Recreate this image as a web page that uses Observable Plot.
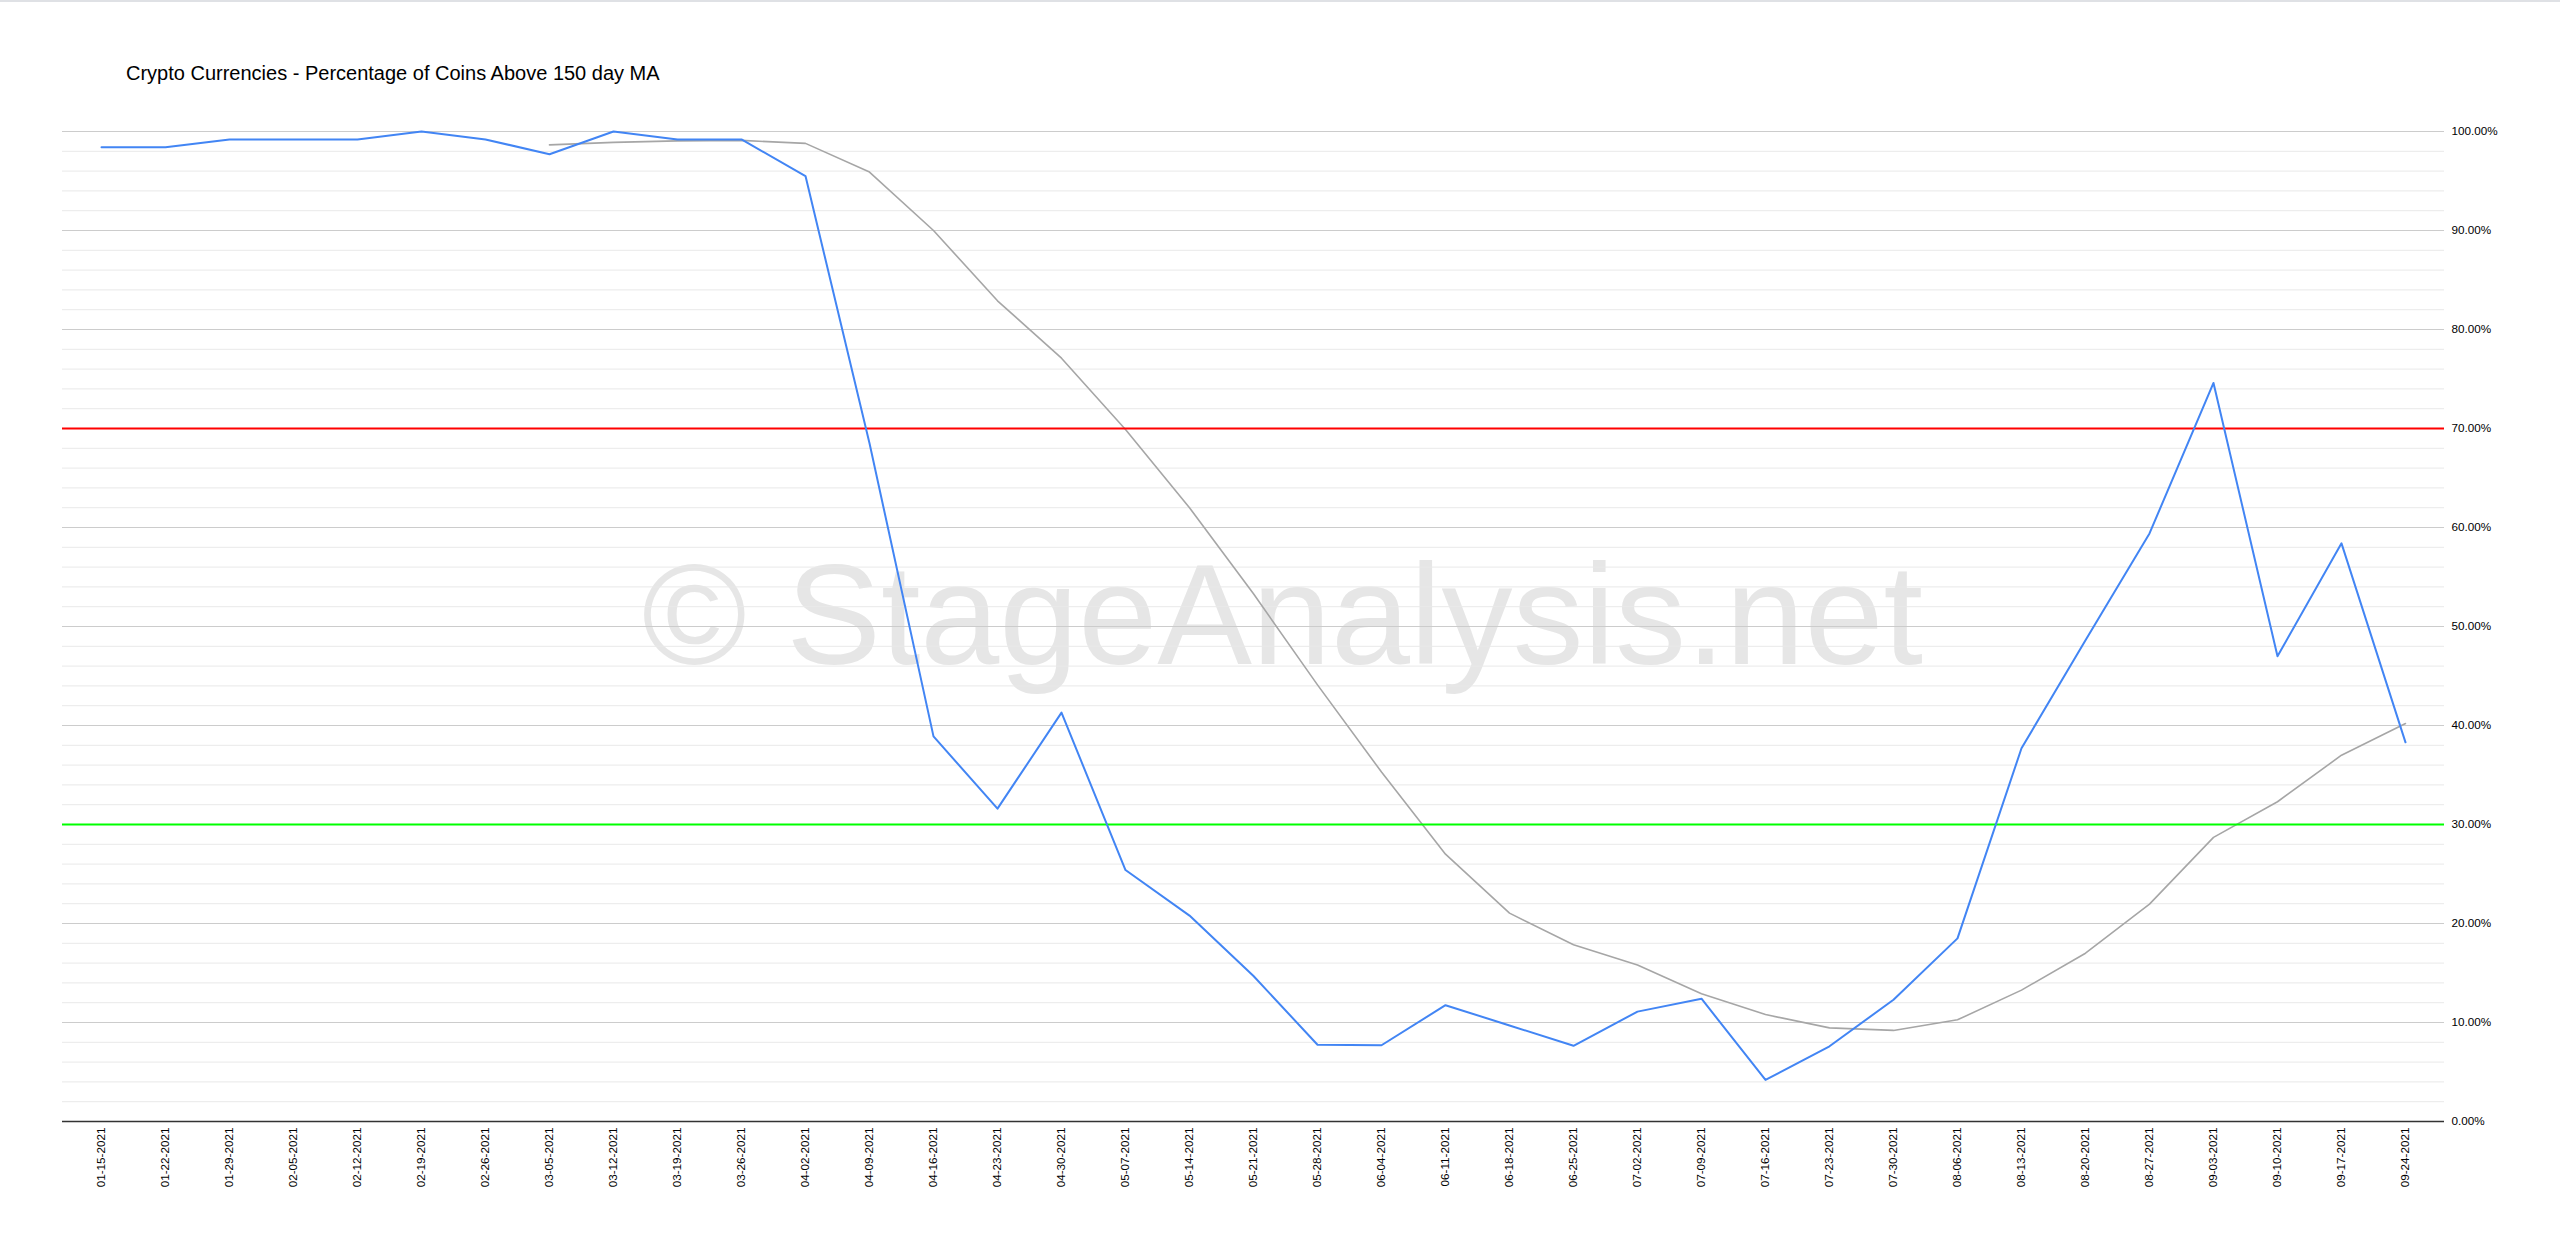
<!DOCTYPE html>
<html>
<head>
<meta charset="utf-8">
<script src="https://cdn.jsdelivr.net/npm/d3@7"></script>
<script src="https://cdn.jsdelivr.net/npm/@observablehq/plot@0.6"></script>
<style>
  html, body { margin: 0; padding: 0; background: #fff; }
  #wrap { position: relative; width: 2560px; height: 1250px; overflow: hidden; }
  #topline { position: absolute; left: 0; top: 0; width: 2560px; height: 2px; background: #dfe1e5; }
  #title { position: absolute; left: 126px; top: 61px; font-family: Arial, "Liberation Sans", sans-serif; font-size: 20px; color: #000; white-space: nowrap; line-height: 24px; }
</style>
</head>
<body>
<div id="wrap">
  <div id="topline"></div>
  <div id="title">Crypto Currencies - Percentage of Coins Above 150 day MA</div>
  <div id="chart"></div>
</div>
<script>
const titleText = "Crypto Currencies - Percentage of Coins Above 150 day MA";
const watermarkText = "© StageAnalysis.net";

const dates = [
  "01-15-2021","01-22-2021","01-29-2021","02-05-2021","02-12-2021","02-19-2021","02-26-2021",
  "03-05-2021","03-12-2021","03-19-2021","03-26-2021","04-02-2021","04-09-2021","04-16-2021",
  "04-23-2021","04-30-2021","05-07-2021","05-14-2021","05-21-2021","05-28-2021","06-04-2021",
  "06-11-2021","06-18-2021","06-25-2021","07-02-2021","07-09-2021","07-16-2021","07-23-2021",
  "07-30-2021","08-06-2021","08-13-2021","08-20-2021","08-27-2021","09-03-2021","09-10-2021",
  "09-17-2021","09-24-2021"
];

// Percentage of coins above 150 day MA (%)
const pctAbove = [
  98.4, 98.4, 99.2, 99.2, 99.2, 100.0, 99.2,
  97.7, 100.0, 99.2, 99.2, 95.5, 68.5, 38.9,
  31.6, 41.3, 25.4, 20.8, 14.7, 7.75, 7.7,
  11.75, 9.7, 7.65, 11.1, 12.4, 4.2, 7.6,
  12.3, 18.5, 37.7, 48.6, 59.4, 74.6, 47.0,
  58.4, 38.3
];

// Moving average of the series (%), starts at 03-05-2021
const pctMA = [
  null, null, null, null, null, null, null,
  98.65, 98.9, 99.05, 99.1, 98.8, 95.9, 90.0,
  82.9, 77.1, 69.9, 62.0, 53.3, 44.1, 35.3,
  27.0, 21.05, 17.85, 15.8, 12.9, 10.8, 9.46,
  9.2, 10.27, 13.27, 17.0, 21.96, 28.7, 32.3,
  37.0, 40.2
];

const upperLevel = 70;
const lowerLevel = 30;

const yMajorTicks = [0, 10, 20, 30, 40, 50, 60, 70, 80, 90, 100];
const yMinorTicks = [2,4,6,8,12,14,16,18,22,24,26,28,32,34,36,38,42,44,46,48,52,54,56,58,62,64,66,68,72,74,76,78,82,84,86,88,92,94,96,98];

const rows = dates.map((d, i) => ({date: d, value: pctAbove[i] / 100, ma: pctMA[i] == null ? null : pctMA[i] / 100}));

const chart = Plot.plot({
  width: 2560,
  height: 1250,
  marginLeft: 62,
  marginRight: 116,
  marginTop: 131,
  marginBottom: 129,
  style: {fontFamily: 'Arial, "Liberation Sans", sans-serif', fontSize: "11.7px", color: "#000", background: "transparent"},
  x: {type: "point", domain: dates, padding: 0.5},
  y: {domain: [0, 1]},
  marks: [
    Plot.text([watermarkText], {frameAnchor: "middle", text: d => d, fontSize: 142, fill: "#e6e6e6", dx: 29, dy: -8, textAnchor: "middle", lineAnchor: "middle"}),
    Plot.ruleY(yMinorTicks.map(v => v / 100), {stroke: "#e9e9e9", strokeWidth: 1}),
    Plot.ruleY(yMajorTicks.filter(v => v > 0).map(v => v / 100), {stroke: "#cccccc", strokeWidth: 1}),
    Plot.axisY({anchor: "right", ticks: yMajorTicks.map(v => v / 100), tickFormat: d => (d * 100).toFixed(2) + "%", tickSize: 0, tickPadding: 7, label: null, fill: "#000"}),
    Plot.axisX({ticks: dates, tickRotate: -90, tickSize: 0, tickPadding: 6, label: null, fill: "#000"}),
    Plot.ruleY([0], {stroke: "#333333", strokeWidth: 1.5}),
    Plot.line(rows, {x: "date", y: "ma", stroke: "#a6a6a6", strokeWidth: 1.6}),
    Plot.ruleY([upperLevel / 100], {stroke: "#ff0000", strokeWidth: 2}),
    Plot.ruleY([lowerLevel / 100], {stroke: "#00ff00", strokeWidth: 2}),
    Plot.line(rows, {x: "date", y: "value", stroke: "#4285f4", strokeWidth: 2})
  ]
});
document.getElementById("chart").appendChild(chart);
</script>
</body>
</html>
